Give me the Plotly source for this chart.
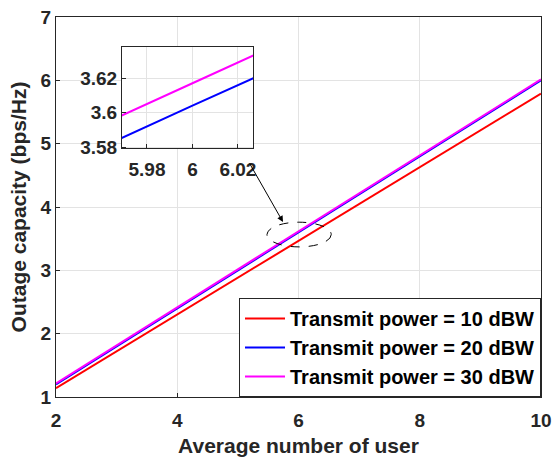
import plotly.graph_objects as go

users = [2, 3, 4, 5, 6, 7, 8, 9, 10]
cap_10dBW = [1.14, 1.72, 2.30, 2.88, 3.46, 4.05, 4.63, 5.21, 5.79]
cap_20dBW = [1.20, 1.80, 2.40, 3.00, 3.604, 4.20, 4.80, 5.40, 6.00]
cap_30dBW = [1.215, 1.815, 2.415, 3.015, 3.617, 4.215, 4.815, 5.415, 6.015]
names = ["Transmit power = 10 dBW", "Transmit power = 20 dBW", "Transmit power = 30 dBW"]
colors = ["#FF0000", "#0000FF", "#FF00FF"]
series = [cap_10dBW, cap_20dBW, cap_30dBW]

x_ticks = [2, 4, 6, 8, 10]
y_ticks = [1, 2, 3, 4, 5, 6, 7]
inset_x_ticks = [5.98, 6.0, 6.02]
inset_x_labels = ["5.98", "6", "6.02"]
inset_y_ticks = [3.58, 3.6, 3.62]
inset_y_labels = ["3.58", "3.6", "3.62"]

FAM = "Liberation Sans, Arial, sans-serif"
TXT = "#262626"

def b(labels):
    return ["<b>%s</b>" % l for l in labels]

fig = go.Figure()
for nm, c, s in zip(names, colors, series):
    fig.add_trace(go.Scatter(x=users, y=s, mode="lines", name=nm,
                             line=dict(color=c, width=2), xaxis="x", yaxis="y"))
for nm, c, s in zip(names, colors, series):
    fig.add_trace(go.Scatter(x=users, y=s, mode="lines", name=nm, showlegend=False,
                             line=dict(color=c, width=2), xaxis="x2", yaxis="y2"))

def ax(**kw):
    d = dict(showline=True, linecolor=TXT, linewidth=1, mirror=True,
             showgrid=True, gridcolor="#e3e3e3", gridwidth=1, zeroline=False,
             ticks="inside", ticklen=4, tickcolor=TXT, automargin=False,
             tickfont=dict(size=19, family=FAM, color=TXT, weight=700))
    d.update(kw)
    return d

fig.update_layout(
    width=553, height=457,
    margin=dict(l=56, r=12, t=17, b=60),
    paper_bgcolor="white", plot_bgcolor="white",
    font=dict(family=FAM, color=TXT, weight=700),
    xaxis=ax(range=[2, 10], tickvals=x_ticks, ticktext=b([str(v) for v in x_ticks]), domain=[0, 1],
             ticklabelstandoff=6,
             title=dict(text="Average number of user", font=dict(size=21, family=FAM, color=TXT, weight=700), standoff=9)),
    yaxis=ax(range=[1, 7], tickvals=y_ticks, ticktext=b([str(v) for v in y_ticks]), domain=[0, 1],
             title=dict(text="Outage capacity (bps/Hz)", font=dict(size=21, family=FAM, color=TXT, weight=700), standoff=8)),
    xaxis2=ax(range=[5.969, 6.0266], tickvals=inset_x_ticks, ticktext=b(inset_x_labels),
              domain=[0.136, 0.406], anchor="y2", ticklabelstandoff=4),
    yaxis2=ax(range=[3.5794, 3.638], tickvals=inset_y_ticks, ticktext=b(inset_y_labels),
              domain=[0.655, 0.921], anchor="x2"),
    legend=dict(x=1, y=0, xanchor="right", yanchor="bottom",
                bgcolor="white", bordercolor=TXT, borderwidth=1,
                font=dict(size=20, color="black", family=FAM, weight=700),
                tracegroupgap=0, itemwidth=40),
    shapes=[dict(type="circle", xref="x", yref="y", x0=5.48, x1=6.54, y0=3.37, y1=3.76,
                 line=dict(color="black", width=1, dash="dash"))],
    annotations=[dict(x=5.744, y=3.763, ax=5.18, ay=4.71, xref="x", yref="y",
                      axref="x", ayref="y", text="", showarrow=True,
                      arrowhead=2, arrowsize=1.2, arrowwidth=1, arrowcolor="black")],
)

fig.write_html("out.html")
